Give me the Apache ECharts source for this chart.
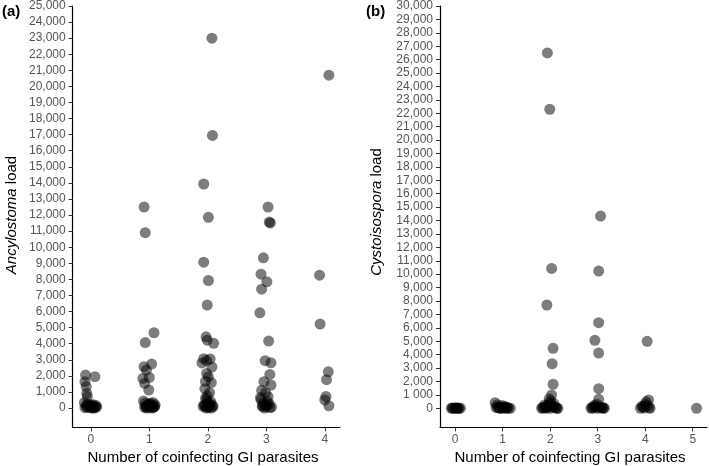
<!DOCTYPE html>
<html>
<head>
<meta charset="utf-8">
<script src="https://cdn.jsdelivr.net/npm/echarts@6/dist/echarts.min.js"></script>
<style>html,body{margin:0;padding:0;background:#fff}#c{width:709px;height:466px}</style>
</head>
<body>
<div id="c"></div>
<script>
// ---------- data ----------
const ancyTicks = [0,1000,2000,3000,4000,5000,6000,7000,8000,9000,10000,11000,12000,13000,14000,15000,16000,17000,18000,19000,20000,21000,22000,23000,24000,25000];
const cystoTicks = [0,1000,2000,3000,4000,5000,6000,7000,8000,9000,10000,11000,12000,13000,14000,15000,16000,17000,18000,19000,20000,21000,22000,23000,24000,25000,26000,27000,28000,29000,30000];
const ancyCats = [0,1,2,3,4];
const cystoCats = [0,1,2,3,4,5];

// Panel (a): jittered number of coinfecting parasites and Ancylostoma load
const ancyX = [
 -0.09,0.07,-0.10,-0.08,-0.07,-0.06,-0.11,-0.08,-0.03,0.03,0.08,-0.10,0.01,0.06,-0.05,0.04,0.10,-0.02,0.00,0.09,-0.07,0.05,
 0.91,0.93,1.08,0.93,1.04,0.91,0.95,0.89,1.00,0.92,0.99,0.90,0.93,0.97,1.02,1.06,1.10,0.95,1.00,1.04,1.08,0.92,0.98,1.03,1.07,0.96,1.01,0.94,1.09,0.99,
 2.07,2.08,1.93,2.01,1.93,2.01,1.99,1.97,1.99,2.10,1.93,2.04,1.98,1.90,2.07,1.98,2.01,1.96,2.06,1.95,2.03,1.99,1.96,2.05,2.00,1.94,2.08,1.92,2.02,2.06,1.97,2.00,2.04,1.95,2.09,1.98,
 3.03,3.07,3.05,2.95,2.91,3.01,2.92,2.89,3.04,2.98,3.08,3.06,2.96,3.08,2.92,2.99,3.03,2.90,2.95,3.05,2.93,3.00,3.09,2.97,3.02,2.94,3.06,2.91,3.00,
 4.07,3.91,3.92,4.06,4.03,4.02,4.00,4.07
];
const ancyY = [
 2050,1950,1640,1330,910,700,330,150,100,120,80,20,0,10,250,200,50,30,180,150,60,0,
 12500,10900,4680,4070,2730,2570,2360,1840,1900,1530,1120,430,300,200,250,350,200,100,50,0,80,40,150,120,20,0,280,60,100,180,
 23000,16950,13930,11860,9070,7930,6400,4430,4220,4020,3070,3050,2950,2800,2550,2150,1950,1650,1580,1200,950,750,600,400,300,200,150,100,50,0,0,30,250,120,80,500,
 12500,11510,11560,9340,8320,7850,7390,5920,4160,2940,2810,2090,1640,1430,1100,950,700,650,300,250,100,200,50,0,400,150,30,500,80,
 20700,8260,5220,2250,1760,720,500,140
];

// Panel (b): jittered number of coinfecting parasites and Cystoisospora load
const cystoX = [
 -0.08,-0.04,0.00,0.04,0.08,0.11,0.02,-0.06,0.06,
 0.84,0.88,0.92,0.96,1.00,1.04,1.08,1.12,1.16,0.90,0.98,1.06,0.94,1.02,1.10,0.86,
 1.94,1.99,2.03,1.93,2.06,2.04,2.06,2.03,1.98,2.01,1.82,1.86,1.90,1.94,1.98,2.02,2.06,2.10,2.14,1.88,1.96,2.00,2.08,2.12,1.92,2.04,1.84,2.16,
 3.06,3.02,3.02,2.94,3.02,3.02,3.02,2.98,2.86,2.90,2.95,3.00,3.05,3.10,3.14,2.92,2.97,3.08,3.12,2.88,
 4.04,4.07,4.02,3.90,3.95,4.00,4.05,4.10,3.98,4.08,3.93,
 5.08
];
const cystoY = [
 0,10,0,20,0,5,30,15,0,
 420,250,100,0,50,150,0,20,0,30,200,80,10,0,40,60,
 26500,22300,10430,7700,4470,3320,1790,990,700,550,0,20,100,200,400,300,150,50,0,250,80,0,350,30,10,120,60,0,
 14330,10230,6380,5070,4120,1460,670,300,0,20,100,0,50,0,10,200,150,80,30,60,
 4990,620,480,0,100,300,200,0,20,50,150,
 0
];

// ---------- chart ----------
const FONT = '"Liberation Sans", Arial, Helvetica, sans-serif';
const pairs = (xs, ys) => xs.map((x, i) => [x, ys[i]]);
const fmtA = v => Number(v).toLocaleString('en-US');
const fmtB = v => (v === 1000 ? '1 000' : Number(v).toLocaleString('en-US'));

function xAxisDef(gridIndex, min, max, cats) {
  return {
    type: 'value', gridIndex, min, max,
    axisLine: { show: true, onZero: false, lineStyle: { color: '#000', width: 1.2 } },
    axisTick: { show: true, length: 4, lineStyle: { color: '#333' }, customValues: cats },
    axisLabel: { color: '#555', fontSize: 12, fontFamily: FONT, margin: 6, customValues: cats },
    splitLine: { show: false }
  };
}
function yAxisDef(gridIndex, min, max, ticks, fmt) {
  return {
    type: 'value', gridIndex, min, max,
    axisLine: { show: true, onZero: false, lineStyle: { color: '#000', width: 1.2 } },
    axisTick: { show: true, length: 4, lineStyle: { color: '#333' }, customValues: ticks },
    axisLabel: { color: '#555', fontSize: 12, fontFamily: FONT, margin: 7, customValues: ticks, formatter: fmt },
    splitLine: { show: false }
  };
}

const pointStyle = { color: 'rgba(0,0,0,0.64)' };

const option = {
  animation: false,
  backgroundColor: '#fff',
  grid: [
    { left: 72.7, top: 5.5, width: 267.3, height: 421.8 },
    { left: 440, top: 5.5, width: 267, height: 421.8 }
  ],
  xAxis: [
    xAxisDef(0, -0.31, 4.26, ancyCats),
    xAxisDef(1, -0.32, 5.3, cystoCats)
  ],
  yAxis: [
    yAxisDef(0, -1200, 25000, ancyTicks, fmtA),
    yAxisDef(1, -1420, 30000, cystoTicks, fmtB)
  ],
  series: [
    { type: 'scatter', xAxisIndex: 0, yAxisIndex: 0, symbolSize: 11, itemStyle: pointStyle, data: pairs(ancyX, ancyY) },
    { type: 'scatter', xAxisIndex: 1, yAxisIndex: 1, symbolSize: 11, itemStyle: pointStyle, data: pairs(cystoX, cystoY) }
  ],
  graphic: [
    { type: 'text', left: 2, top: 4, style: { text: '(a)', font: 'bold 15px ' + FONT, fill: '#000' } },
    { type: 'text', left: 366, top: 4, style: { text: '(b)', font: 'bold 15px ' + FONT, fill: '#000' } },
    { type: 'text', x: 12, y: 215, rotation: Math.PI / 2,
      style: { text: '{i|Ancylostoma} {n|load}', align: 'center', verticalAlign: 'middle', fill: '#000',
        fontSize: 15, fontFamily: FONT,
        rich: { i: { fontStyle: 'italic', fontSize: 15, fontFamily: FONT, fill: '#000' }, n: { fontSize: 15, fontFamily: FONT, fill: '#000' } } } },
    { type: 'text', x: 377, y: 212, rotation: Math.PI / 2,
      style: { text: '{i|Cystoisospora} {n|load}', align: 'center', verticalAlign: 'middle', fill: '#000',
        fontSize: 15, fontFamily: FONT,
        rich: { i: { fontStyle: 'italic', fontSize: 15, fontFamily: FONT, fill: '#000' }, n: { fontSize: 15, fontFamily: FONT, fill: '#000' } } } },
    { type: 'text', x: 203, y: 457.5,
      style: { text: 'Number of coinfecting GI parasites', align: 'center', verticalAlign: 'middle', fill: '#000', fontSize: 15, fontFamily: FONT } },
    { type: 'text', x: 570, y: 457.5,
      style: { text: 'Number of coinfecting GI parasites', align: 'center', verticalAlign: 'middle', fill: '#000', fontSize: 15, fontFamily: FONT } }
  ]
};

const chart = echarts.init(document.getElementById('c'), null, { renderer: 'canvas' });
chart.setOption(option);
</script>
</body>
</html>
